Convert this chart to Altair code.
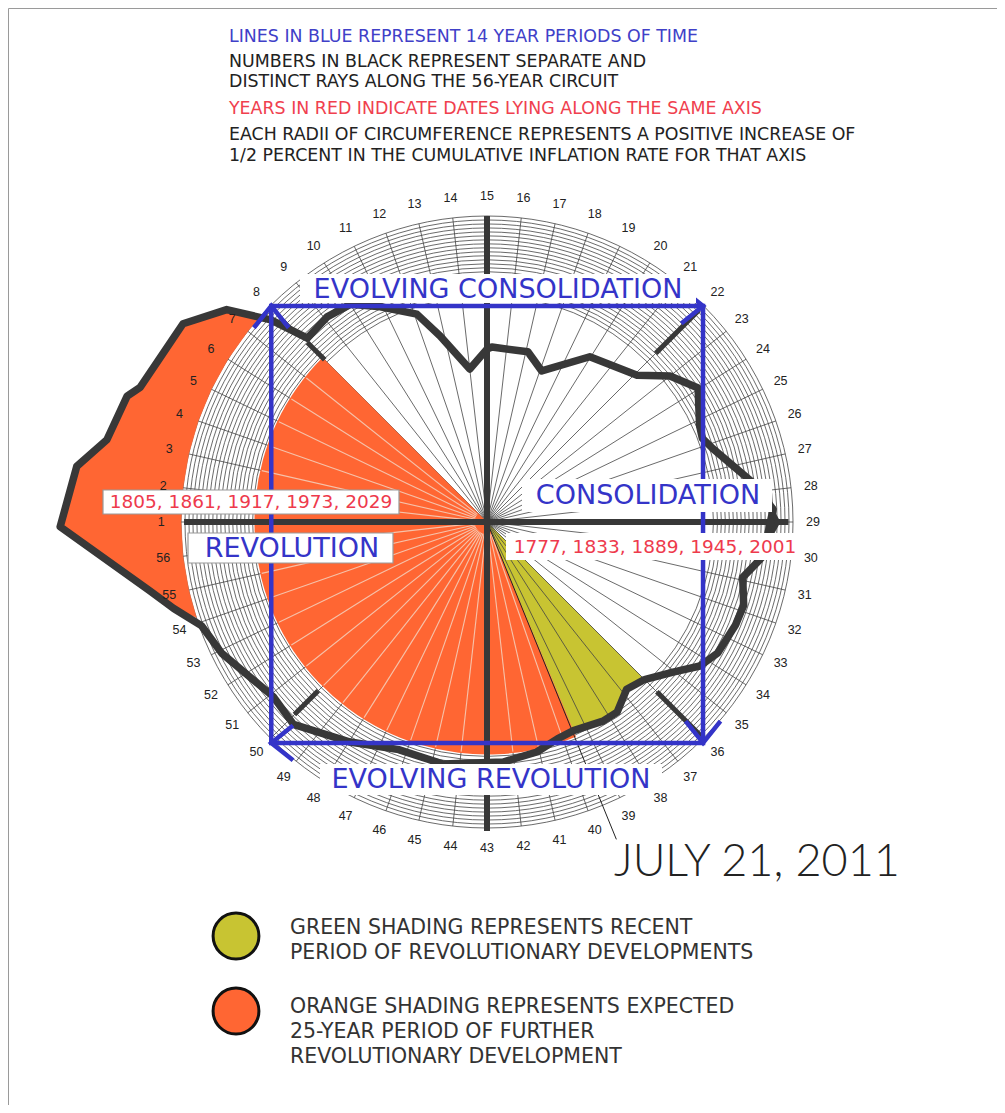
import math
import altair as alt
import pandas as pd

# ---------------- values ----------------
ray_numbers = list(range(1, 57))          # 56 rays, ray 1 points left, numbering runs clockwise

# thick grey curve: position along the 56-ray circuit and radius (outer circle = 1)
curve_ray = [0.9, 2.2, 2.9, 4.0, 4.3, 6.15, 7.1, 7.7, 8.1, 9.1,
             10.0, 10.9, 12.1, 12.8, 14.0, 15.0, 15.25, 17.1, 18.1, 19.96,
             22.1, 23.0, 23.96, 25.2, 25.7, 26.2, 27.7, 28.6, 30.1, 30.9,
             31.8, 32.5, 33.6, 34.3, 35.05, 36.0, 36.8, 37.65, 38.3, 39.5,
             40.2, 41.1, 42.4, 44.6, 46.3, 47.96, 49.8, 50.9, 52.9, 53.9,
             54.6, 55.2]
curve_radius = [1.395, 1.353, 1.271, 1.246, 1.216, 1.186, 1.098, 0.967, 0.84, 0.85,
                0.84, 0.785, 0.717, 0.627, 0.503, 0.565, 0.572, 0.572, 0.525, 0.636,
                0.686, 0.765, 0.817, 0.763, 0.755, 0.776, 0.879, 0.936, 0.909, 0.855,
                0.882, 0.879, 0.867, 0.84, 0.781, 0.728, 0.712, 0.753, 0.753, 0.738,
                0.745, 0.769, 0.786, 0.804, 0.798, 0.847, 0.915, 0.902, 0.967, 0.993,
                1.062, 1.124]

ring_radii = [round(0.74 + 0.013 * i, 3) for i in range(21)]   # grid circles of the outer band

green_from, green_to = 36.0, 39.5
orange_from, orange_to, orange_radius = 39.5, 64.0, 0.76   # 64 = ray 8 after a full turn
today_ray, today_len = 39.55, 1.12
diag_rays = [8, 22, 36, 50]
diag_r0 = [0.75, 0.78, 0.785, 0.78]
diag_r1 = [0.83, 0.98, 0.99, 0.89]
blue_box = [(-0.705, 0.706), (0.706, 0.706), (0.706, -0.722), (-0.705, -0.722)]

header_lines = [
    ("LINES IN BLUE REPRESENT 14 YEAR PERIODS OF TIME", "#4040c8"),
    ("NUMBERS IN BLACK REPRESENT SEPARATE AND", "#222222"),
    ("DISTINCT  RAYS ALONG THE 56-YEAR CIRCUIT", "#222222"),
    ("YEARS IN RED INDICATE DATES LYING ALONG THE SAME AXIS", "#f0404e"),
    ("EACH RADII OF CIRCUMFERENCE REPRESENTS A POSITIVE INCREASE OF", "#222222"),
    ("1/2 PERCENT IN THE CUMULATIVE INFLATION RATE FOR THAT AXIS", "#222222"),
]
years_left = "1805, 1861, 1917, 1973, 2029"
years_right = "1777, 1833, 1889, 1945, 2001"
date_text = "JULY 21, 2011"
legend_green = ["GREEN SHADING REPRESENTS RECENT", "PERIOD OF REVOLUTIONARY DEVELOPMENTS"]
legend_orange = ["ORANGE SHADING REPRESENTS EXPECTED", "25-YEAR PERIOD OF FURTHER",
                 "REVOLUTIONARY DEVELOPMENT"]

ORANGE = "#ff6633"
GREEN = "#c8c432"
BLUE = "#3434c8"
RED = "#ee3a4c"
DARK = "#383838"

# ---------------- layout ----------------
W, H = 989, 1097
CX, CY = 479, 514
R = 306
STEP = 360.0 / 56

XS = alt.Scale(domain=[-CX / R, (W - CX) / R], nice=False, zero=False)
YS = alt.Scale(domain=[-(H - CY) / R, CY / R], nice=False, zero=False)
TS = alt.Scale(domain=[15, 71], range=[0, 2 * math.pi])
RS = alt.Scale(type="linear", domain=[0, 1], range=[0, R], zero=True)


def ang(k):
    return math.radians(180.0 - (k - 1) * STEP)


def px(k, r):
    return r * math.cos(ang(k))


def py(k, r):
    return r * math.sin(ang(k))


def xy():
    return {"x": alt.X("x:Q", scale=XS, axis=None), "y": alt.Y("y:Q", scale=YS, axis=None)}


def seg():
    d = xy()
    d.update({"x2": alt.X2("x2:Q"), "y2": alt.Y2("y2:Q")})
    return d


def poly_df(points):
    return pd.DataFrame({"i": list(range(len(points))),
                         "x": [px(k, r) for k, r in points],
                         "y": [py(k, r) for k, r in points]})


ONE = pd.DataFrame({"a": [0]})


def label(txt, x, y, size, color, font="DejaVu Sans", align="left", weight="normal"):
    return alt.Chart(ONE).mark_text(text=txt, fontSize=size, color=color, font=font, align=align,
                                    baseline="middle", fontWeight=weight).encode(
        x=alt.value(x - 8), y=alt.value(y - 8))


def box(x1, y1, x2, y2, stroke=""):
    kw = {"fill": "white"}
    if stroke:
        kw.update(stroke=stroke, strokeWidth=1.2)
    return alt.Chart(ONE).mark_rect(**kw).encode(
        x=alt.value(x1 - 8), x2=alt.value(x2 - 8), y=alt.value(y1 - 8), y2=alt.value(y2 - 8))


def arc_enc():
    return {"theta": alt.Theta("k0:Q", scale=TS, stack=None), "theta2": alt.Theta2("k1:Q"),
            "radius": alt.Radius("r:Q", scale=RS), "x": alt.value(CX), "y": alt.value(CY)}


layers = []

# grid rings
layers.append(alt.Chart(pd.DataFrame({"r": ring_radii, "k0": 15.0, "k1": 71.0}))
              .mark_arc(filled=False, stroke="#444444", strokeWidth=0.8).encode(**arc_enc()))

# green wedge (bounded by the curve)
green_pts = [(green_from, 0.0)] + [(k, r) for k, r in zip(curve_ray, curve_radius)
                                   if green_from <= k <= green_to]
layers.append(alt.Chart(poly_df(green_pts)).mark_line(
    interpolate="linear-closed", fill=GREEN, color=GREEN, strokeWidth=0.5).encode(
    order=alt.Order("i:Q"), **xy()))

# rays
rays = pd.DataFrame({"k": ray_numbers})
rays["x"] = 0.0
rays["y"] = 0.0
rays["x2"] = [px(k, 1.0) for k in ray_numbers]
rays["y2"] = [py(k, 1.0) for k in ray_numbers]
layers.append(alt.Chart(rays).mark_rule(color="#444444", strokeWidth=0.8).encode(**seg()))

# orange wedge
layers.append(alt.Chart(pd.DataFrame({"k0": [orange_from], "k1": [orange_to], "r": [orange_radius]}))
              .mark_arc(color=ORANGE).encode(**arc_enc()))

# faded rays inside the orange wedge
ok = [k for k in ray_numbers if k >= 40 or k <= 7]
lr = pd.DataFrame({"x": [px(k, 0.04) for k in ok], "y": [py(k, 0.04) for k in ok],
                   "x2": [px(k, orange_radius - 0.005) for k in ok],
                   "y2": [py(k, orange_radius - 0.005) for k in ok]})
layers.append(alt.Chart(lr).mark_rule(color="#f6c2aa", strokeWidth=1.1).encode(**seg()))

# orange blob outside the circle
seq = sorted([(k - 56 if k > 28 else k, r) for k, r in zip(curve_ray, curve_radius) if k > 52 or k < 8])


def cross(a, b):
    t = (1 - a[1]) / (b[1] - a[1])
    return (a[0] + t * (b[0] - a[0]), 1.0)


start = cross(seq[0], seq[1])
end = cross(seq[-2], seq[-1])
outside = [p for p in seq if p[1] > 1]
back = [(float(k), 1.0) for k in range(int(math.floor(end[0])), int(math.ceil(start[0])) - 1, -1)]
blob_pts = [start] + outside + [end] + back
layers.append(alt.Chart(poly_df(blob_pts)).mark_line(
    interpolate="linear-closed", fill=ORANGE, color=ORANGE, strokeWidth=0.5).encode(
    order=alt.Order("i:Q"), **xy()))

# 2011 marker line
layers.append(alt.Chart(pd.DataFrame({"x": [0.0], "y": [0.0], "x2": [px(today_ray, today_len)],
                                      "y2": [py(today_ray, today_len)]}))
              .mark_rule(color="#222222", strokeWidth=1).encode(**seg()))

# thick axes
axes = pd.DataFrame({"x": [px(1, 0.99), px(15, 1.0)], "y": [py(1, 0.99), py(15, 1.0)],
                     "x2": [px(29, 0.985), px(43, 1.01)], "y2": [py(29, 0.985), py(43, 1.01)]})
layers.append(alt.Chart(axes).mark_rule(color=DARK, strokeWidth=6).encode(**seg()))

# diagonal marks
dg = pd.DataFrame({"x": [px(k, a) for k, a in zip(diag_rays, diag_r0)],
                   "y": [py(k, a) for k, a in zip(diag_rays, diag_r0)],
                   "x2": [px(k, b) for k, b in zip(diag_rays, diag_r1)],
                   "y2": [py(k, b) for k, b in zip(diag_rays, diag_r1)]})
layers.append(alt.Chart(dg).mark_rule(color=DARK, strokeWidth=5).encode(**seg()))

# the curve
layers.append(alt.Chart(poly_df(list(zip(curve_ray, curve_radius)))).mark_line(
    interpolate="linear-closed", color=DARK, strokeWidth=7.5, strokeJoin="round").encode(
    order=alt.Order("i:Q"), **xy()))

# arrow head on ray 29
layers.append(alt.Chart(pd.DataFrame({"x": [px(29, 0.95)], "y": [0.0]})).mark_point(
    shape="M-0.55,-1L0,0L-0.55,1", filled=False, color=DARK, strokeWidth=5, size=700, opacity=1).encode(**xy()))

# blue rectangle and arrow heads
bb = pd.DataFrame({"i": range(4), "x": [p[0] for p in blue_box], "y": [p[1] for p in blue_box]})
layers.append(alt.Chart(bb).mark_line(interpolate="linear-closed", color=BLUE, strokeWidth=4.5).encode(
    order=alt.Order("i:Q"), **xy()))
for (bx, by), a in zip(blue_box, [270, 0, 90, 180]):
    layers.append(alt.Chart(pd.DataFrame({"x": [bx], "y": [by]})).mark_point(
        shape="M-1,-0.8L0,0L-1,0.8", filled=False, color=BLUE, strokeWidth=4.5, size=1900,
        angle=a, opacity=1).encode(**xy()))

# label boxes and labels in the diagram
layers += [
    box(300, 274, 696, 303),
    label("EVOLVING CONSOLIDATION", 498, 290, 27, BLUE, align="center"),
    box(522, 479, 772, 512),
    label("CONSOLIDATION", 648, 496, 27, BLUE, align="center"),
    box(506, 533, 803, 560),
    label(years_right, 655, 547, 18.5, RED, align="center"),
    box(103, 490, 399, 514, stroke="#999999"),
    label(years_left, 251, 502, 18.5, RED, align="center"),
    box(188, 533, 393, 563, stroke="#999999"),
    label("REVOLUTION", 292, 549, 27, BLUE, align="center"),
    box(320, 764, 662, 795),
    label("EVOLVING REVOLUTION", 491, 780, 27, BLUE, align="center"),
]

# ray numbers
nums = pd.DataFrame({"t": [str(k) for k in ray_numbers],
                     "x": [px(k, 1.065) for k in ray_numbers],
                     "y": [py(k, 1.065) for k in ray_numbers]})
layers.append(alt.Chart(nums).mark_text(font="Liberation Sans", fontSize=12.5, color="#222222").encode(
    text="t:N", **xy()))

# header
for (txt, col), y in zip(header_lines, [37, 62, 82, 109, 135, 156]):
    layers.append(label(txt, 229, y, 17.4, col))

# date
layers.append(label(date_text, 614, 862, 45, "#222222", font="Lato", weight=300))

# legend
for y, col in [(936, GREEN), (1011, ORANGE)]:
    layers.append(alt.Chart(ONE).mark_point(shape="circle", filled=True, fill=col, stroke="#111111",
                                            strokeWidth=3, size=2100, opacity=1).encode(
        x=alt.value(236 - 8), y=alt.value(y - 8)))
for txt, y in zip(legend_green, [928, 953]):
    layers.append(label(txt, 290, y, 20.5, "#333333"))
for txt, y in zip(legend_orange, [1007, 1032, 1057]):
    layers.append(label(txt, 290, y, 20.5, "#333333"))

chart = alt.layer(*layers).properties(
    width=W, height=H, padding=0, autosize=alt.AutoSizeParams(type="none")
).configure_view(stroke="#9a9a9a", strokeWidth=1)

chart.save("out.html", embed_options={"renderer": "svg", "actions": False})
